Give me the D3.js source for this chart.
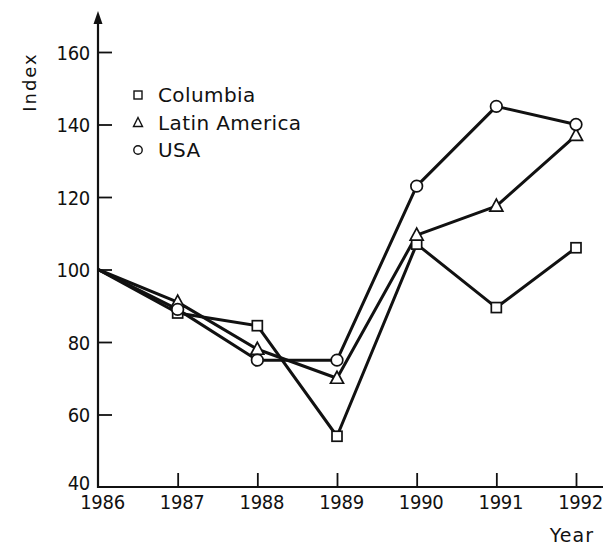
<!DOCTYPE html>
<html><head><meta charset="utf-8">
<script src="https://cdn.jsdelivr.net/npm/d3@7"></script>
<style>
html,body{margin:0;padding:0;background:#fff;}
svg{display:block;}
.tick text{font-family:"DejaVu Sans Condensed","Liberation Sans Narrow",sans-serif;}
</style></head>
<body>
<script>
const years = [1986, 1987, 1988, 1989, 1990, 1991, 1992];
const columbia = [100, 88, 84.5, 54, 107, 89.5, 106];
const latinAmerica = [100, 91, 78, 70, 109.5, 117.5, 137];
const usa = [100, 89, 75, 75, 123, 145, 140];
const yTicks = [40, 60, 80, 100, 120, 140, 160];
const seriesNames = ["Columbia", "Latin America", "USA"];
const seriesShapes = ["square", "triangle", "circle"];

const W = 603, H = 546;
const svg = d3.select("body").append("svg").attr("width", W).attr("height", H);

const x = d3.scaleLinear().domain([1986, 1992]).range([98, 576]);
const y = d3.scaleLinear().domain([40, 160]).range([487, 52]);

const ink = "#111";

// x axis
const xAxis = d3.axisBottom(x).tickValues(years).tickFormat(d3.format("d")).tickSize(0).tickPadding(10);
const gx = svg.append("g").attr("transform", "translate(0,487)").call(xAxis);
gx.select(".domain").remove();
gx.append("line").attr("x1", 98).attr("x2", 603).attr("y1", 0).attr("y2", 0).attr("stroke", ink).attr("stroke-width", 2.2);
gx.selectAll(".tick").filter(d => d !== 1986).append("line").attr("y1", 0).attr("y2", -14).attr("stroke", ink).attr("stroke-width", 1.8);
gx.selectAll(".tick text").attr("font-size", 20).attr("letter-spacing", -0.3).attr("fill", ink).attr("dy", "0.62em").attr("dx", 4);

// y axis
const yAxis = d3.axisLeft(y).tickValues(yTicks).tickSize(0).tickPadding(8);
const gy = svg.append("g").attr("transform", "translate(98,0)").call(yAxis);
gy.select(".domain").remove();
gy.append("line").attr("x1", 0).attr("x2", 0).attr("y1", 488).attr("y2", 22).attr("stroke", ink).attr("stroke-width", 2.2);
gy.append("path").attr("d", "M0,11 L-4.5,24 L4.5,24 Z").attr("fill", ink);
gy.selectAll(".tick").filter(d => d !== 40).append("line").attr("x1", 0).attr("x2", 14).attr("stroke", ink).attr("stroke-width", 1.8);
gy.selectAll(".tick text").attr("font-size", 20).attr("letter-spacing", -0.3).attr("fill", ink)
  .attr("dy", d => d === 40 ? "0.1em" : "0.36em");

// axis titles
svg.append("text").attr("transform", "translate(36,82) rotate(-90)").attr("text-anchor", "middle")
  .attr("font-family", "DejaVu Sans, sans-serif").attr("font-size", 18).attr("letter-spacing", 2).attr("fill", ink).text("Index");
svg.append("text").attr("x", 594).attr("y", 542).attr("text-anchor", "end")
  .attr("font-family", "DejaVu Sans, sans-serif").attr("font-size", 19).attr("letter-spacing", 1).attr("fill", ink).text("Year");

const data = [columbia, latinAmerica, usa];
const line = d3.line().x((d, i) => x(years[i])).y(d => y(d));

data.forEach(vals => {
  svg.append("path").datum(vals).attr("d", line).attr("fill", "none").attr("stroke", ink).attr("stroke-width", 3).attr("stroke-linejoin", "round");
});

function marker(g, shape, cx, cy) {
  if (shape === "square") {
    g.append("rect").attr("x", cx - 5).attr("y", cy - 5).attr("width", 10).attr("height", 10)
      .attr("fill", "#fff").attr("stroke", ink).attr("stroke-width", 1.7);
  } else if (shape === "triangle") {
    g.append("path").attr("d", `M${cx},${cy - 7} L${cx - 6.5},${cy + 5} L${cx + 6.5},${cy + 5} Z`)
      .attr("fill", "#fff").attr("stroke", ink).attr("stroke-width", 1.7);
  } else {
    g.append("circle").attr("cx", cx).attr("cy", cy).attr("r", 5.8)
      .attr("fill", "#fff").attr("stroke", ink).attr("stroke-width", 1.7);
  }
}

const mg = svg.append("g");
data.forEach((vals, si) => {
  vals.forEach((v, i) => {
    if (i === 0) return;
    marker(mg, seriesShapes[si], x(years[i]), y(v));
  });
});

// legend
const leg = svg.append("g");
seriesNames.forEach((name, i) => {
  const cy = 95 + i * 27.5;
  const lg = leg.append("g");
  if (seriesShapes[i] === "square") {
    lg.append("rect").attr("x", 134).attr("y", cy - 4).attr("width", 8).attr("height", 8).attr("fill", "#fff").attr("stroke", ink).attr("stroke-width", 1.4);
  } else if (seriesShapes[i] === "triangle") {
    lg.append("path").attr("d", `M138,${cy - 5} L133.5,${cy + 4} L142.5,${cy + 4} Z`).attr("fill", "#fff").attr("stroke", ink).attr("stroke-width", 1.4);
  } else {
    lg.append("circle").attr("cx", 138).attr("cy", cy).attr("r", 4.2).attr("fill", "#fff").attr("stroke", ink).attr("stroke-width", 1.4);
  }
  lg.append("text").attr("x", 158).attr("y", cy + 7).attr("font-family", "DejaVu Sans, sans-serif")
    .attr("font-size", 20).attr("letter-spacing", 0.4).attr("fill", ink).text(name);
});
</script>
</body></html>
